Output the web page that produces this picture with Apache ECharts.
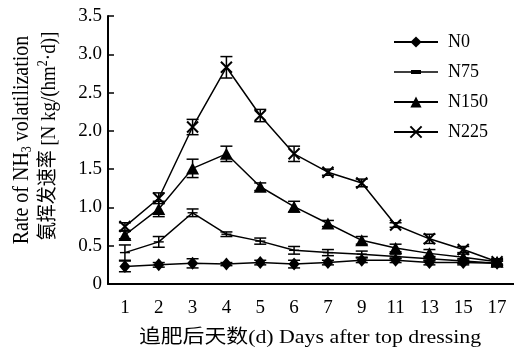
<!DOCTYPE html>
<html><head><meta charset="utf-8">
<script src="https://cdn.jsdelivr.net/npm/echarts@6/dist/echarts.min.js"></script>
<style>html,body{margin:0;padding:0;background:#fff}#c{width:514px;height:356px}</style>
</head><body><div id="c"></div>
<script>
const categories = ['1','2','3','4','5','6','7','9','11','13','15','17'];
const n0   = [0.23,0.25,0.27,0.26,0.28,0.26,0.28,0.31,0.31,0.28,0.28,0.27];
const n75  = [0.41,0.55,0.93,0.65,0.56,0.44,0.41,0.39,0.36,0.33,0.30,0.27];
const n150 = [0.64,0.98,1.51,1.70,1.27,1.01,0.79,0.57,0.47,0.40,0.35,0.29];
const n225 = [0.75,1.12,2.05,2.83,2.20,1.70,1.46,1.32,0.77,0.59,0.45,0.29];
const e0   = [0.07,0.03,0.06,0.02,0.03,0.05,0.03,0.03,0.03,0.03,0.03,0.03];
const e75  = [0.10,0.07,0.05,0.03,0.04,0.05,0.04,0.04,0.03,0.03,0.03,0.03];
const e150 = [0.05,0.10,0.12,0.10,0.05,0.07,0.04,0.05,0.05,0.05,0.04,0.03];
const e225 = [0.05,0.07,0.10,0.14,0.08,0.10,0.04,0.05,0.03,0.06,0.04,0.04];
const names = ['N0','N75','N150','N225'];

const FONT = '"Liberation Serif","Times New Roman",serif';
const CJK = '"Liberation Serif","Noto Sans CJK SC",serif';
const chart = echarts.init(document.getElementById('c'));

function errSeries(v, e){
  return {
    type:'custom', silent:true, z:3,
    data: v.map((y,i)=>[i, y-e[i], y+e[i]]),
    renderItem(params, api){
      const x = api.value(0);
      const lo = api.coord([x, api.value(1)]);
      const hi = api.coord([x, api.value(2)]);
      const w = 6;
      const st = {stroke:'#000', lineWidth:1.5, fill:null};
      return {type:'group', children:[
        {type:'line', shape:{x1:lo[0],y1:lo[1],x2:hi[0],y2:hi[1]}, style:st},
        {type:'line', shape:{x1:lo[0]-w,y1:lo[1],x2:lo[0]+w,y2:lo[1]}, style:st},
        {type:'line', shape:{x1:hi[0]-w,y1:hi[1],x2:hi[0]+w,y2:hi[1]}, style:st}
      ]};
    }
  };
}
function lineSeries(name, v, symbol, size, extra){
  return Object.assign({
    name, type:'line', data:v, symbol, symbolSize:size, z:4,
    lineStyle:{color:'#000', width:1.5},
    itemStyle:{color:'#000', borderColor:'#000', borderWidth:0},
    emphasis:{disabled:true}, animation:false
  }, extra||{});
}

// legend glyph for N75: thin line with a small dash in the middle (box 44x14)
const n75Icon = 'path://M0,0L0,0M44,14L44,14M0,6.25L44,6.25L44,7.75L0,7.75Z M17,5L27,5L27,9L17,9Z';

chart.setOption({
  animation:false,
  grid:{left:108, top:16, bottom:72, width:412, containLabel:false},
  legend:{
    orient:'vertical', left:388, top:28, itemWidth:44, itemHeight:14, itemGap:12,
    data:[{name:'N0'},{name:'N75', icon:n75Icon},{name:'N150'},{name:'N225'}],
    textStyle:{fontFamily:FONT, fontSize:18, color:'#000', padding:[0,0,0,5]}
  },
  xAxis:{
    type:'category', data:categories, boundaryGap:true,
    axisLine:{lineStyle:{color:'#000', width:2}},
    axisTick:{inside:true, length:6, lineStyle:{color:'#000', width:1.5}},
    axisLabel:{fontFamily:FONT, fontSize:19, color:'#000', margin:15},
    splitLine:{show:false}
  },
  yAxis:{
    type:'value', min:0, max:3.5, interval:0.5,
    axisLine:{show:true, lineStyle:{color:'#000', width:2}},
    axisTick:{show:true, inside:true, length:6, lineStyle:{color:'#000', width:1.5}},
    axisLabel:{fontFamily:FONT, fontSize:19, color:'#000', margin:6,
      formatter:v=> v===0 ? '0' : v.toFixed(1)},
    splitLine:{show:false}
  },
  graphic:[
    {type:'text', x:22, y:140, rotation:Math.PI/2, scaleY:1.15, style:{
      text:'{a|Rate of NH}{s|3}{a| volatilization}', align:'center', verticalAlign:'middle',
      rich:{a:{fontFamily:FONT, fontSize:20, fill:'#000'}, s:{fontFamily:FONT, fontSize:12, fill:'#000', padding:[9,0,0,0]}}
    }},
    {type:'text', x:49, y:136, rotation:Math.PI/2, scaleY:1.15, style:{
      text:'{c|氨挥发速率 }{a|[N kg/(hm}{s|2}{a|·d)]}', align:'center', verticalAlign:'middle',
      rich:{c:{fontFamily:CJK, fontSize:18, fill:'#000'}, a:{fontFamily:FONT, fontSize:19, fill:'#000'}, s:{fontFamily:FONT, fontSize:12, fill:'#000', padding:[0,0,9,0]}}
    }},
    {type:'text', x:310, y:338, scaleX:1.15, style:{
      text:'{c|追肥后天数}{a|(d) Days after top dressing}', align:'center', verticalAlign:'middle',
      rich:{c:{fontFamily:CJK, fontSize:19, fill:'#000'}, a:{fontFamily:FONT, fontSize:19, fill:'#000'}}
    }}
  ],
  series:[
    errSeries(n0,e0), errSeries(n75,e75), errSeries(n150,e150), errSeries(n225,e225),
    lineSeries('N0', n0, 'diamond', [11,13]),
    lineSeries('N75', n75, 'path://M0,0L10,0L10,3.5L0,3.5Z', [10,4], {symbolKeepAspect:true}),
    lineSeries('N150', n150, 'triangle', [13,12]),
    lineSeries('N225', n225, 'path://M0,0L10,10M10,0L0,10', 11,
      {itemStyle:{color:'none', borderColor:'#000', borderWidth:2}})
  ]
});
</script></body></html>
